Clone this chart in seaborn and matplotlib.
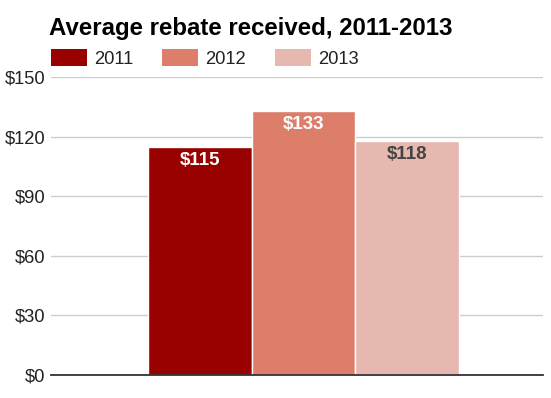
import matplotlib
matplotlib.use("Agg")
import matplotlib.pyplot as plt
import seaborn as sns
import pandas as pd

title = "Average rebate received, 2011-2013"
years = ["2011", "2012", "2013"]
values = [115, 133, 118]
labels = ["$115", "$133", "$118"]
colors = ["#990000", "#dd7e6b", "#e6b8af"]
label_colors = ["#ffffff", "#ffffff", "#444444"]
yticks = [0, 30, 60, 90, 120, 150]
ytick_labels = ["$0", "$30", "$60", "$90", "$120", "$150"]

df = pd.DataFrame({"cat": [""] * 3, "year": years, "value": values})

sns.set_theme(style="white")
plt.rcParams["font.family"] = ["Liberation Sans", "DejaVu Sans"]

W, H = 551, 398
fig = plt.figure(figsize=(W / 100, H / 100), dpi=100)
ax = fig.add_axes([51 / W, (H - 375) / H, (543 - 51) / W, (375 - 77) / H])

sns.barplot(data=df, x="cat", y="value", hue="year", palette=colors,
            width=0.9, saturation=1, edgecolor="white", linewidth=1,
            ax=ax, legend=False, zorder=3)

ax.set_xlim(-0.7306, 0.693)
ax.set_ylim(0, 150)
ax.set_yticks(yticks)
ax.set_yticklabels(ytick_labels, fontsize=13.2, color="#222222")
ax.set_xticks([])
ax.set_xlabel("")
ax.set_ylabel("")
ax.tick_params(axis="y", length=0, pad=4.3)
ax.grid(axis="y", color="#cccccc", linewidth=1, zorder=0)
ax.set_axisbelow(True)
for s in ["top", "right", "left"]:
    ax.spines[s].set_visible(False)
ax.spines["bottom"].set_color("#333333")
ax.spines["bottom"].set_linewidth(1.3)
ax.spines["bottom"].set_zorder(5)

for cont, lab, lc in zip(ax.containers, labels, label_colors):
    for bar in cont:
        ax.annotate(lab, (bar.get_x() + bar.get_width() / 2, bar.get_height()),
                    xytext=(0, -4), textcoords="offset points",
                    ha="center", va="top", fontsize=13.5, fontweight="bold",
                    color=lc, zorder=6)

fig.text(49 / W, 1 - 35 / H, title, fontsize=17.3, fontweight="bold",
         color="#000000", ha="left", va="baseline")

from matplotlib.patches import Patch
handles = [Patch(facecolor=c, edgecolor="none") for c in colors]
leg = fig.legend(handles, years, loc="upper left",
                 bbox_to_anchor=(51 / W, 1 - 49 / H), ncol=3, frameon=False,
                 fontsize=13.2, handlelength=1.96, handleheight=1.03,
                 handletextpad=0.38, columnspacing=1.6, borderpad=0,
                 borderaxespad=0)
for t in leg.get_texts():
    t.set_color("#222222")

fig.savefig("out.png", dpi=100)
